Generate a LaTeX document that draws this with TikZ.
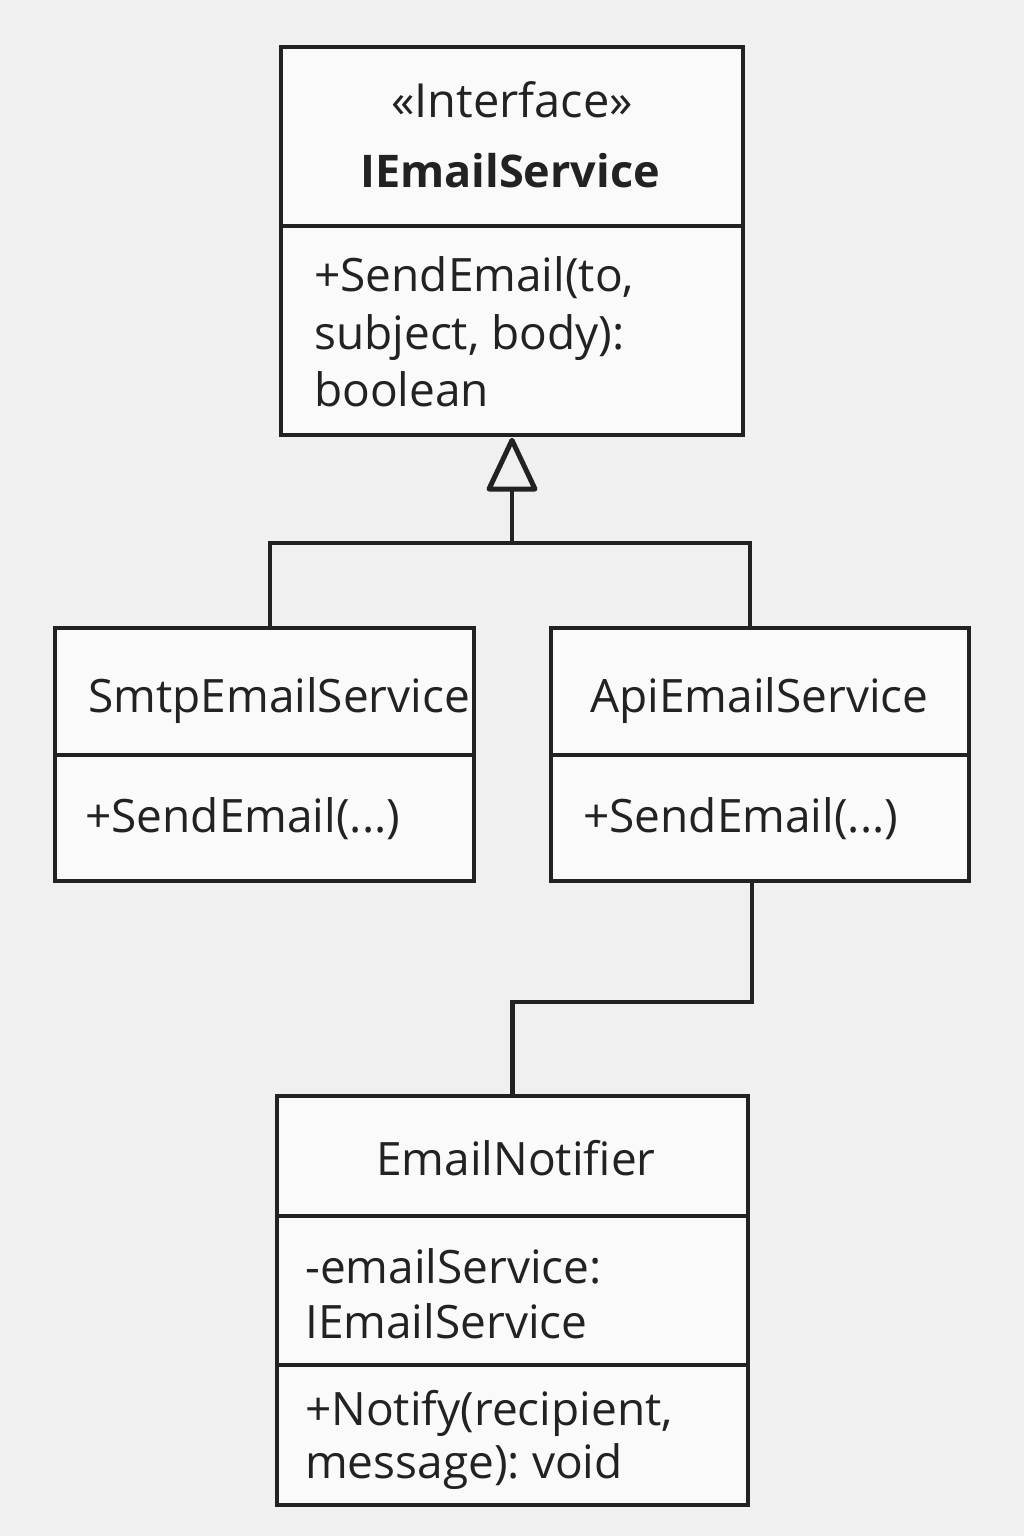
\documentclass[tikz,border=0pt]{standalone}
\usepackage{fontspec}
\setmainfont{Open Sans}
\usetikzlibrary{arrows.meta,calc}
\definecolor{bg}{HTML}{F0F0F0}
\definecolor{ink}{HTML}{222222}
\definecolor{boxfill}{HTML}{FAFAFA}
\frenchspacing
\begin{document}
\begin{tikzpicture}[x=1pt,y=-1pt,
  comp/.style={draw=ink, fill=boxfill, line width=4.5pt, inner sep=0pt, rectangle},
  txt/.style={inner sep=0pt, text=ink, font=\fontsize{46}{56}\selectfont},
  lbl/.style={txt, anchor=base west},
  ttl/.style={txt, anchor=base},
  conn/.style={draw=ink, line width=4.5pt},
  genhead/.style={draw=ink, line width=5pt, fill=bg, line join=round}
]
\fill[bg] (0,0) rectangle (1024,1536);
\useasboundingbox (0,0) rectangle (1024,1536);

% IEmailService
\node[comp, minimum width=462pt, minimum height=179pt] (ihead) at (512,136.5) {};
\node[comp, minimum width=462pt, minimum height=209pt] (ibody) at (512,330.5) {};
\node[ttl, font=\fontsize{47}{54}\selectfont] (istereo) at (512,118) {«Interface»};
\node[ttl, font=\fontsize{45}{54}\selectfont\bfseries] (iname) at (510,187) {IEmailService};
\node[lbl] (im1) at (314,291) {+SendEmail(to,};
\node[lbl] (im2) at (314,349) {subject, body):};
\node[lbl] (im3) at (314,406) {boolean};

% SmtpEmailService
\node[comp, minimum width=419pt, minimum height=127pt] (shead) at (264.5,691.5) {};
\node[comp, minimum width=419pt, minimum height=126pt] (sbody) at (264.5,818) {};
\node[lbl] (sname) at (88,712) {SmtpEmailService};
\node[lbl] (sm1) at (85,832) {+SendEmail(...)};

% ApiEmailService
\node[comp, minimum width=418pt, minimum height=127pt] (ahead) at (760,691.5) {};
\node[comp, minimum width=418pt, minimum height=126pt] (abody) at (760,818) {};
\node[lbl] (aname) at (590,712) {ApiEmailService};
\node[lbl] (am1) at (583,832) {+SendEmail(...)};

% EmailNotifier
\node[comp, minimum width=471pt, minimum height=120pt] (nhead) at (512.5,1156) {};
\node[comp, minimum width=471pt, minimum height=149pt] (nattr) at (512.5,1290.5) {};
\node[comp, minimum width=471pt, minimum height=140pt] (nmeth) at (512.5,1435) {};
\node[ttl] (nname) at (516,1175) {EmailNotifier};
\node[lbl] (na1) at (305,1283) {-emailService:};
\node[lbl] (na2) at (305,1338) {IEmailService};
\node[lbl] (nm1) at (305,1425) {+Notify(recipient,};
\node[lbl] (nm2) at (305,1478) {message): void};

% connectors
\coordinate (j) at (512,543);
\coordinate (tbase) at (512,489);
\coordinate (stop) at (270,626);
\coordinate (atop) at (750,626);
\coordinate (abot) at (752,883);
\coordinate (bend) at (513,1002);
\draw[conn] (j) -- (tbase);
\draw[genhead] ($(ibody.south)+(0,3)$) -- ($(tbase)+(-23,0)$) -- ($(tbase)+(23,0)$) -- cycle;
\draw[conn] (stop) |- (j) -| (atop);
\draw[conn] (abot) |- (bend) -| (nhead.north);
\end{tikzpicture}
\end{document}
